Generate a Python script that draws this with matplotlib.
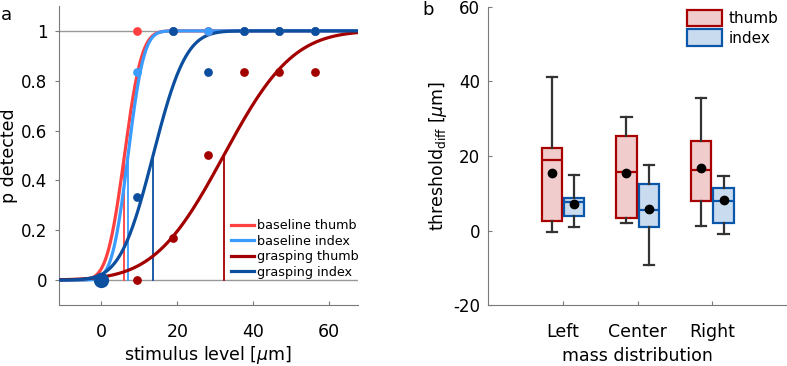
import math
import numpy as np
import matplotlib
matplotlib.use("Agg")
import matplotlib.pyplot as plt
from matplotlib.patches import Patch

plt.rcParams["font.family"] = ["DejaVu Sans"]
plt.rcParams["mathtext.fontset"] = "dejavusans"
plt.rcParams["font.size"] = 12.5
plt.rcParams["xtick.labelsize"] = 12.5
plt.rcParams["ytick.labelsize"] = 12
plt.rcParams["axes.unicode_minus"] = False

# ---- panel a: psychometric data ----
levels = [0, 9.375, 18.75, 28.125, 37.5, 46.875, 56.25]
conds = ["baseline thumb", "baseline index", "grasping thumb", "grasping index"]
cond_colors = ["#ff4040", "#3a9cff", "#a30000", "#0b4f9e"]
thresholds = [6.05, 7.0, 32.2, 13.6]
sigmas = [3.6, 3.3, 14.3, 6.8]

p_base_thumb = [0, 1.0, 1.0, 1.0, 1.0, 1.0, 1.0]
p_base_index = [0, 0.833, 1.0, 1.0, 1.0, 1.0, 1.0]
p_grasp_thumb = [0, 0.0, 0.167, 0.5, 0.833, 0.833, 0.833]
p_grasp_index = [0, 0.333, 1.0, 0.833, 1.0, 1.0, 1.0]
p_all = [p_base_thumb, p_base_index, p_grasp_thumb, p_grasp_index]

# ---- panel b: threshold differences ----
groups = ["Left", "Center", "Right"]
thumb_lo = [-0.4, 1.9, 1.1]
thumb_q1 = [2.7, 3.5, 8.0]
thumb_med = [18.8, 15.7, 16.2]
thumb_q3 = [22.2, 25.4, 24.0]
thumb_hi = [41.2, 30.3, 35.4]
thumb_mean = [15.3, 15.3, 16.7]

index_lo = [0.9, -9.3, -0.9]
index_q1 = [4.0, 1.0, 1.9]
index_med = [7.7, 5.4, 7.9]
index_q3 = [8.7, 12.4, 11.3]
index_hi = [15.0, 17.7, 14.6]
index_mean = [7.2, 5.8, 8.1]

axis_gray = "#7a7a7a"

fig = plt.figure(figsize=(7.87, 3.66), dpi=100)

# ================= panel a =================
ax1 = fig.add_axes([0.0746, 0.1667, 0.380, 0.817])
ax1.axhline(0, color="#999999", lw=1, zorder=1)
ax1.axhline(1, color="#999999", lw=1, zorder=1)

xs = np.linspace(-11.25, 67.5, 400)
handles = []
for name, col, mu, sd in zip(conds, cond_colors, thresholds, sigmas):
    ys = [0.5 * (1 + math.erf((x - mu) / (sd * math.sqrt(2)))) for x in xs]
    h, = ax1.plot(xs, ys, color=col, lw=2.3, zorder=3, label=name)
    handles.append(h)
    ax1.plot([mu, mu], [0, 0.5], color=col, lw=1.3, zorder=2)

for col, ps in zip(cond_colors, p_all):
    ax1.plot(levels[1:], ps[1:], "o", color=col, ms=6.3, mec="none", zorder=4)
ax1.plot(levels[0], p_grasp_index[0], "o", color=cond_colors[3], ms=11,
         mec="none", zorder=5)

ax1.set_xlim(-11.25, 67.5)
ax1.set_ylim(-0.1, 1.1)
ax1.set_xticks([0, 20, 40, 60])
ax1.set_yticks([0, 0.2, 0.4, 0.6, 0.8, 1])
ax1.set_yticklabels(["0", "0.2", "0.4", "0.6", "0.8", "1"])
ax1.tick_params(axis="x", direction="in", length=3, pad=13, color=axis_gray)
ax1.tick_params(axis="y", direction="out", length=3, pad=5, color=axis_gray)
for s in ["top", "right"]:
    ax1.spines[s].set_visible(False)
for s in ["left", "bottom"]:
    ax1.spines[s].set_color(axis_gray)
ax1.set_xlabel(r"stimulus level [$\mu$m]", labelpad=2)
ax1.set_ylabel("p detected", labelpad=2)
ax1.legend(handles=handles, loc="lower left", bbox_to_anchor=(0.56, 0.07),
           frameon=False, fontsize=9.2, handlelength=1.8, handletextpad=0.2,
           labelspacing=0.2, borderaxespad=0)
fig.text(0.001, 0.958, "a", fontsize=13, va="center", ha="left")

# ================= panel b =================
ax2 = fig.add_axes([0.6205, 0.166, 0.3795, 0.816])
pos = np.arange(1, len(groups) + 1)
off = 0.15
bw = 0.27

def make_stats(lo, q1, med, q3, hi):
    return [dict(whislo=a, q1=b, med=c, q3=d, whishi=e, fliers=[])
            for a, b, c, d, e in zip(lo, q1, med, q3, hi)]

series = [
    ("thumb", make_stats(thumb_lo, thumb_q1, thumb_med, thumb_q3, thumb_hi),
     thumb_mean, -off, "#f0cccc", "#a80000"),
    ("index", make_stats(index_lo, index_q1, index_med, index_q3, index_hi),
     index_mean, off, "#c9dbef", "#0a56a8"),
]
leg_handles = []
for name, stats, means, dx, face, edge in series:
    ax2.bxp(stats, positions=pos + dx, widths=bw, capwidths=bw * 0.5,
            patch_artist=True, showfliers=False, manage_ticks=False,
            boxprops=dict(facecolor=face, edgecolor=edge, lw=1.6),
            medianprops=dict(color=edge, lw=1.6),
            whiskerprops=dict(color="#333333", lw=1.6),
            capprops=dict(color="#333333", lw=1.6))
    ax2.plot(pos + dx, means, "o", color="black", ms=6, zorder=5)
    leg_handles.append(Patch(facecolor=face, edgecolor=edge, lw=1.6, label=name))

ax2.set_xlim(0, 4)
ax2.set_ylim(-20, 60)
ax2.set_xticks(pos)
ax2.set_xticklabels(groups)
ax2.set_yticks([-20, 0, 20, 40, 60])
ax2.tick_params(axis="x", direction="in", length=3, pad=13, color=axis_gray)
ax2.tick_params(axis="y", direction="in", length=3, pad=6, color=axis_gray)
for s in ["top", "right"]:
    ax2.spines[s].set_visible(False)
for s in ["left", "bottom"]:
    ax2.spines[s].set_color(axis_gray)
ax2.set_xlabel("mass distribution", labelpad=4)
ax2.set_ylabel(r"threshold$_{\rm diff}$ [$\mu$m]", labelpad=3)
ax2.legend(handles=leg_handles, loc="upper left", bbox_to_anchor=(0.645, 1.01),
           frameon=False, fontsize=11, handlelength=2.3, handleheight=1.3,
           handletextpad=0.4, labelspacing=0.2, borderaxespad=0)
fig.text(0.537, 0.972, "b", fontsize=13, va="center", ha="left")

fig.savefig("out.png", dpi=100)
